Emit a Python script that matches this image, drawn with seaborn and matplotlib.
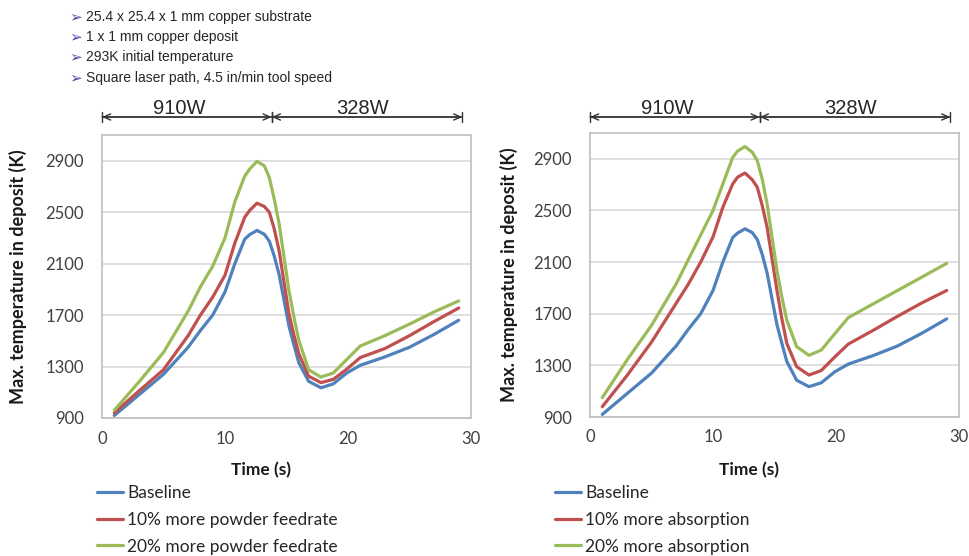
import matplotlib
matplotlib.use("Agg")
import matplotlib.pyplot as plt
import matplotlib.transforms as mtransforms
import seaborn as sns
import pandas as pd

# ---------------- data ----------------
time_s = [1, 3, 5, 7, 8, 9, 10, 10.8, 11.6, 12.0, 12.6, 13.2, 13.6, 14.0, 14.4, 15.2, 15.6, 16, 16.8, 17.8, 18.8, 19.9, 21, 23, 25, 27, 29]

baseline = [920, 1080, 1240, 1450, 1580, 1700, 1880, 2100, 2290, 2325, 2358, 2328, 2275, 2160, 2015, 1615, 1470, 1330, 1185, 1135, 1165, 1250, 1310, 1375, 1450, 1550, 1660]

feed_10 = [940, 1110, 1275, 1540, 1700, 1840, 2010, 2260, 2460, 2513, 2570, 2544, 2500, 2371, 2200, 1710, 1546, 1400, 1225, 1175, 1200, 1280, 1370, 1440, 1540, 1650, 1755]
feed_20 = [960, 1180, 1410, 1730, 1920, 2080, 2300, 2580, 2780, 2835, 2895, 2860, 2770, 2603, 2410, 1890, 1687, 1505, 1275, 1218, 1250, 1355, 1460, 1540, 1630, 1725, 1810]

abs_10 = [980, 1220, 1480, 1780, 1930, 2100, 2295, 2525, 2705, 2758, 2790, 2737, 2680, 2539, 2370, 1880, 1661, 1470, 1290, 1225, 1260, 1365, 1465, 1570, 1680, 1785, 1880]
abs_20 = [1050, 1340, 1610, 1930, 2120, 2310, 2500, 2705, 2910, 2960, 2995, 2950, 2885, 2745, 2550, 2035, 1829, 1650, 1445, 1378, 1418, 1545, 1670, 1775, 1880, 1985, 2090]

left_labels = ["Baseline", "10% more powder feedrate", "20% more powder feedrate"]
right_labels = ["Baseline", "10% more absorption", "20% more absorption"]

y_ticks = [900, 1300, 1700, 2100, 2500, 2900]
x_ticks = [0, 10, 20, 30]

bullets = ["25.4 x 25.4 x 1 mm copper substrate",
           "1 x 1 mm copper deposit",
           "293K initial temperature",
           "Square laser path, 4.5 in/min tool speed"]

power_labels = ["910W", "328W"]
power_bounds = [0, 13.8, 29.3]
power_label_x = [6.3, 21.2]

colors = ["#4F81BD", "#C0504D", "#9BBB59"]

# ---------------- style ----------------
sns.set_style("white")
plt.rcParams["font.family"] = ["Lato", "DejaVu Sans"]

W, H = 969, 556
fig = plt.figure(figsize=(W / 100, H / 100), dpi=100)

def px_axes(x0, x1, ytop, ybot):
    return fig.add_axes([x0 / W, 1 - ybot / H, (x1 - x0) / W, (ybot - ytop) / H])

ax_l = px_axes(102, 471, 135, 418)
ax_r = px_axes(590, 959, 133, 417)

def make_df(series, labels):
    rows = []
    for vals, lab in zip(series, labels):
        for t, v in zip(time_s, vals):
            rows.append({"Time": t, "Temp": v, "Case": lab})
    return pd.DataFrame(rows)

df_l = make_df([baseline, feed_10, feed_20], left_labels)
df_r = make_df([baseline, abs_10, abs_20], right_labels)

def draw(ax, df, labels, ylabel_x, legend_x):
    sns.lineplot(data=df, x="Time", y="Temp", hue="Case", hue_order=labels,
                 palette=colors, linewidth=2.3, ax=ax, legend=True, sort=True)
    for ln in ax.get_lines():
        ln.set_solid_joinstyle("round")
        ln.set_solid_capstyle("round")
    ax.set_xlim(0, 30)
    ax.set_ylim(900, 3100)
    ax.set_xticks(x_ticks)
    ax.set_yticks(y_ticks)
    ax.grid(axis="y", color="#D9D9D9", linewidth=1.2)
    ax.set_axisbelow(True)
    for s in ax.spines.values():
        s.set_color("#BFBFBF")
        s.set_linewidth(1.2)
    ax.tick_params(axis="both", which="major", direction="out", length=5,
                   width=1.0, color="#8C8C8C", labelsize=12, labelcolor="#404040")
    ax.tick_params(axis="x", pad=4)
    ax.tick_params(axis="y", pad=8)
    ax.set_xlabel("Time (s)", fontsize=12.5, fontweight="bold", color="#1a1a1a")
    ax.set_ylabel("Max. temperature in deposit (K)", fontsize=13,
                  fontweight="bold", color="#1a1a1a")
    ax.xaxis.set_label_coords(0.43, -0.157)
    ax.yaxis.set_label_coords(ylabel_x, 0.5)
    leg = ax.legend(loc="upper left", bbox_to_anchor=(legend_x / W, 1 - 485 / H),
                    bbox_transform=fig.transFigure, frameon=False, fontsize=12.5,
                    handlelength=1.5, handletextpad=0.25, labelspacing=0.62,
                    borderaxespad=0, borderpad=0)
    for line in leg.get_lines():
        line.set_linewidth(2.3)
    for txt in leg.get_texts():
        txt.set_color("#262626")

    # power annotation arrows
    trans = mtransforms.blended_transform_factory(ax.transData, fig.transFigure)
    ya = 1 - 117 / H
    for i in range(2):
        ax.annotate("", xy=(power_bounds[i], ya), xytext=(power_bounds[i + 1], ya),
                    xycoords=trans, textcoords=trans, annotation_clip=False,
                    arrowprops=dict(arrowstyle="<->,head_length=0.5,head_width=0.22",
                                    color="#333333", lw=1.0, shrinkA=0, shrinkB=0))
        ax.annotate("", xy=(power_bounds[i], ya), xytext=(power_bounds[i + 1], ya),
                    xycoords=trans, textcoords=trans, annotation_clip=False,
                    arrowprops=dict(arrowstyle="|-|,widthA=0.35,widthB=0.35",
                                    color="#333333", lw=1.0, shrinkA=0, shrinkB=0))
    for lx, lab in zip(power_label_x, power_labels):
        ax.text(lx, 1 - 108 / H, lab, transform=trans, ha="center",
                va="center", fontsize=14.5, family="Liberation Sans", color="#262626")

draw(ax_l, df_l, left_labels, -0.203, 97)
draw(ax_r, df_r, right_labels, -0.195, 555)

# bullet text
for i, b in enumerate(bullets):
    y = 1 - (17 + 20.2 * i) / H
    fig.text(69 / W, y, "\u27a2", fontsize=11, color="#4a4aa8", va="center",
             ha="left", family="DejaVu Sans")
    fig.text(86 / W, y, b, fontsize=10, color="#262626", va="center",
             ha="left", family="Liberation Sans")

fig.savefig("out.png", dpi=100)
